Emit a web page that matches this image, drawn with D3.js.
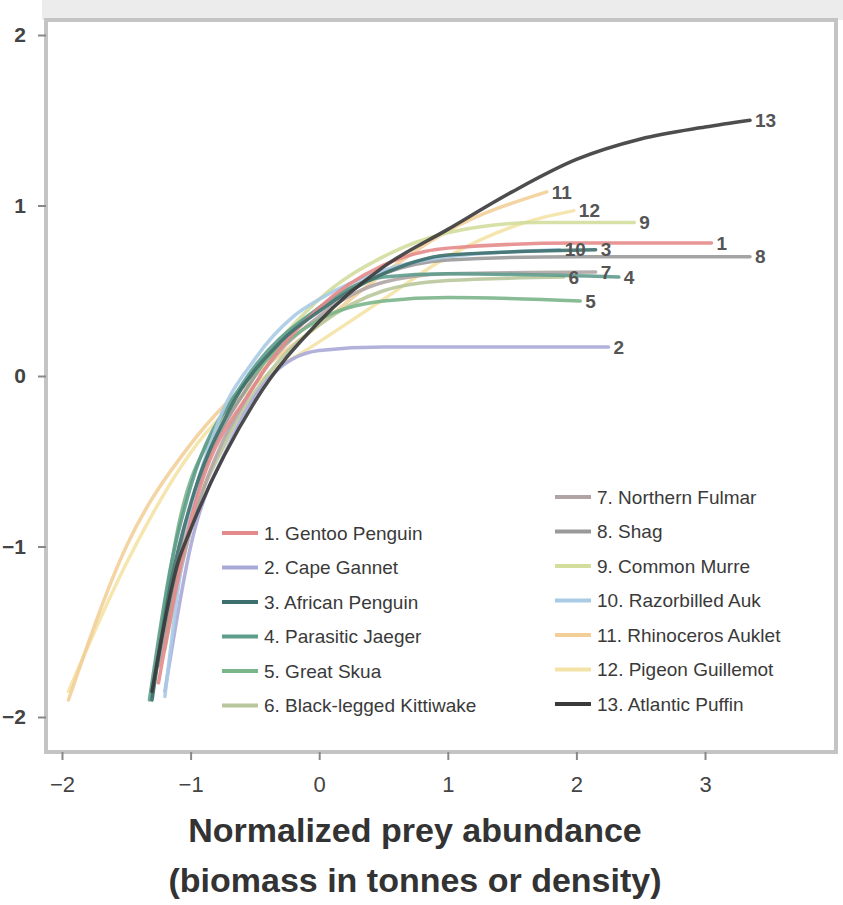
<!DOCTYPE html>
<html>
<head>
<meta charset="utf-8">
<script src="https://cdn.jsdelivr.net/npm/d3@7"></script>
<style>
  html, body { margin: 0; padding: 0; background: #fff; }
  svg { display: block; font-family: Arial, "Liberation Sans", sans-serif; }
</style>
</head>
<body>
<svg id="chart" width="843" height="905"></svg>
<script>
// especies y colores
const especies = [
  "Gentoo Penguin", "Cape Gannet", "African Penguin", "Parasitic Jaeger",
  "Great Skua", "Black-legged Kittiwake", "Northern Fulmar", "Shag",
  "Common Murre", "Razorbilled Auk", "Rhinoceros Auklet", "Pigeon Guillemot",
  "Atlantic Puffin"
];
const colores = [
  "#e58a8a", "#a9a9d8", "#3d6f6c", "#5e9c8c", "#7bb58a", "#b9c79c",
  "#b0a4a4", "#9a9a9a", "#d3dd9c", "#a9cbe6", "#f2cf98", "#f4e3a6",
  "#3a3a3a"
];

// curvas: [x, y]
const curva1 = [[-1.25,-1.8],[-1.0,-0.85],[-0.5,-0.05],[0,0.4],[0.5,0.65],[1,0.75],[2,0.78],[3.05,0.78]];
const curva2 = [[-1.2,-1.85],[-1.0,-1.0],[-0.7,-0.4],[-0.4,-0.02],[0,0.15],[0.5,0.17],[1,0.17],[2.25,0.17]];
const curva3 = [[-1.3,-1.9],[-1.15,-1.2],[-1.0,-0.75],[-0.7,-0.2],[-0.3,0.2],[0,0.38],[0.5,0.6],[1,0.71],[2.15,0.74]];
const curva4 = [[-1.32,-1.9],[-1.15,-1.1],[-1.0,-0.65],[-0.6,-0.05],[0,0.4],[0.5,0.58],[1,0.6],[2.33,0.58]];
const curva5 = [[-1.3,-1.88],[-1.1,-0.9],[-0.8,-0.3],[-0.4,0.1],[0,0.33],[0.5,0.44],[1,0.46],[2.03,0.44]];
const curva6 = [[-1.2,-1.6],[-1.0,-0.9],[-0.7,-0.35],[-0.3,0.1],[0,0.3],[0.5,0.5],[1,0.56],[1.9,0.58]];
const curva7 = [[-1.25,-1.7],[-1.0,-0.9],[-0.5,-0.05],[0,0.35],[0.5,0.55],[1,0.6],[2.15,0.61]];
const curva8 = [[-1.3,-1.85],[-1.0,-0.8],[-0.5,0.0],[0,0.4],[0.5,0.6],[1,0.68],[2,0.7],[3.35,0.7]];
const curva9 = [[-1.2,-1.5],[-1.0,-0.8],[-0.5,0.0],[0,0.45],[0.5,0.7],[1,0.84],[1.7,0.9],[2.45,0.9]];
const curva10 = [[-1.2,-1.88],[-1.05,-1.0],[-0.8,-0.3],[-0.5,0.1],[-0.2,0.35],[0,0.45],[0.5,0.62],[1,0.7],[1.87,0.74]];
const curva11 = [[-1.95,-1.9],[-1.5,-1.0],[-1.0,-0.4],[-0.5,0.0],[0,0.3],[0.5,0.6],[1,0.85],[1.77,1.08]];
const curva12 = [[-1.95,-1.85],[-1.5,-1.1],[-1.0,-0.45],[-0.5,-0.05],[0,0.2],[0.5,0.45],[1,0.7],[1.6,0.9],[1.98,0.97]];
const curva13 = [[-1.3,-1.85],[-1.1,-1.1],[-1.0,-0.9],[-0.5,-0.15],[0,0.32],[0.5,0.64],[1,0.86],[1.5,1.08],[2,1.27],[2.5,1.39],[3,1.46],[3.35,1.5]];
const curvas = [curva1, curva2, curva3, curva4, curva5, curva6, curva7, curva8, curva9, curva10, curva11, curva12, curva13];

const ticksX = [-2, -1, 0, 1, 2, 3];
const ticksY = [-2, -1, 0, 1, 2];

const svg = d3.select("#chart");

const x = d3.scaleLinear().domain([-2, 3]).range([62, 705]);
const y = d3.scaleLinear().domain([-2, 2]).range([717, 35]);

const caja = { left: 46, right: 836, top: 20, bottom: 752 };

// banda gris superior
svg.append("rect")
  .attr("x", caja.left - 4).attr("y", 0)
  .attr("width", 843 - caja.left + 4).attr("height", caja.top)
  .attr("fill", "#ececec");

// marco
svg.append("rect")
  .attr("x", caja.left).attr("y", caja.top)
  .attr("width", caja.right - caja.left).attr("height", caja.bottom - caja.top)
  .attr("fill", "#fff")
  .attr("stroke", "#c4c4c4")
  .attr("stroke-width", 4);

// eje x
const ejeX = svg.append("g")
  .attr("transform", `translate(0,${caja.bottom})`)
  .call(d3.axisBottom(x).tickValues(ticksX).tickSize(8).tickPadding(16).tickFormat(d3.format("d")));
ejeX.select(".domain").remove();
ejeX.selectAll("line").attr("stroke", "#888").attr("stroke-width", 2);
ejeX.selectAll("text").attr("font-size", 22).attr("fill", "#444");

// eje y
const ejeY = svg.append("g")
  .attr("transform", `translate(${caja.left},0)`)
  .call(d3.axisLeft(y).tickValues(ticksY).tickSize(8).tickPadding(12).tickFormat(d3.format("d")));
ejeY.select(".domain").remove();
ejeY.selectAll("line").attr("stroke", "#888").attr("stroke-width", 2);
ejeY.selectAll("text").attr("font-size", 21).attr("fill", "#444").attr("font-weight", "bold");

// curvas
const linea = d3.line()
  .x(d => x(d[0]))
  .y(d => y(d[1]))
  .curve(d3.curveMonotoneX);

const orden = [11, 10, 8, 5, 1, 6, 7, 4, 3, 9, 0, 2, 12];
svg.append("g")
  .selectAll("path")
  .data(orden)
  .join("path")
  .attr("d", i => linea(curvas[i]))
  .attr("fill", "none")
  .attr("stroke", i => colores[i])
  .attr("stroke-width", 3.5)
  .attr("stroke-linecap", "round")
  .attr("opacity", 0.9);

// etiquetas al final de cada curva
svg.append("g")
  .selectAll("text")
  .data(orden)
  .join("text")
  .attr("x", i => x(curvas[i][curvas[i].length - 1][0]) + 5)
  .attr("y", i => y(curvas[i][curvas[i].length - 1][1]))
  .attr("dy", "0.35em")
  .attr("font-size", 19)
  .attr("font-weight", "bold")
  .attr("fill", "#555")
  .text(i => i + 1);

// leyenda
function leyenda(indices, x0, y0) {
  const g = svg.append("g").attr("transform", `translate(${x0},${y0})`);
  const fila = g.selectAll("g").data(indices).join("g")
    .attr("transform", (d, k) => `translate(0,${k * 34.5})`);
  fila.append("line")
    .attr("x1", 0).attr("x2", 36)
    .attr("stroke", i => colores[i])
    .attr("stroke-width", 4);
  fila.append("text")
    .attr("x", 42).attr("dy", "0.35em")
    .attr("font-size", 19)
    .attr("fill", "#3a3a3a")
    .text(i => `${i + 1}. ${especies[i]}`);
}
leyenda([0, 1, 2, 3, 4, 5], 222, 533);
leyenda([6, 7, 8, 9, 10, 11, 12], 555, 497);

// título eje x
svg.append("text")
  .attr("x", 415).attr("y", 842)
  .attr("text-anchor", "middle")
  .attr("font-size", 34).attr("font-weight", "bold").attr("fill", "#333")
  .text("Normalized prey abundance");
svg.append("text")
  .attr("x", 415).attr("y", 892)
  .attr("text-anchor", "middle")
  .attr("font-size", 34).attr("font-weight", "bold").attr("fill", "#333")
  .text("(biomass in tonnes or density)");
</script>
</body>
</html>
